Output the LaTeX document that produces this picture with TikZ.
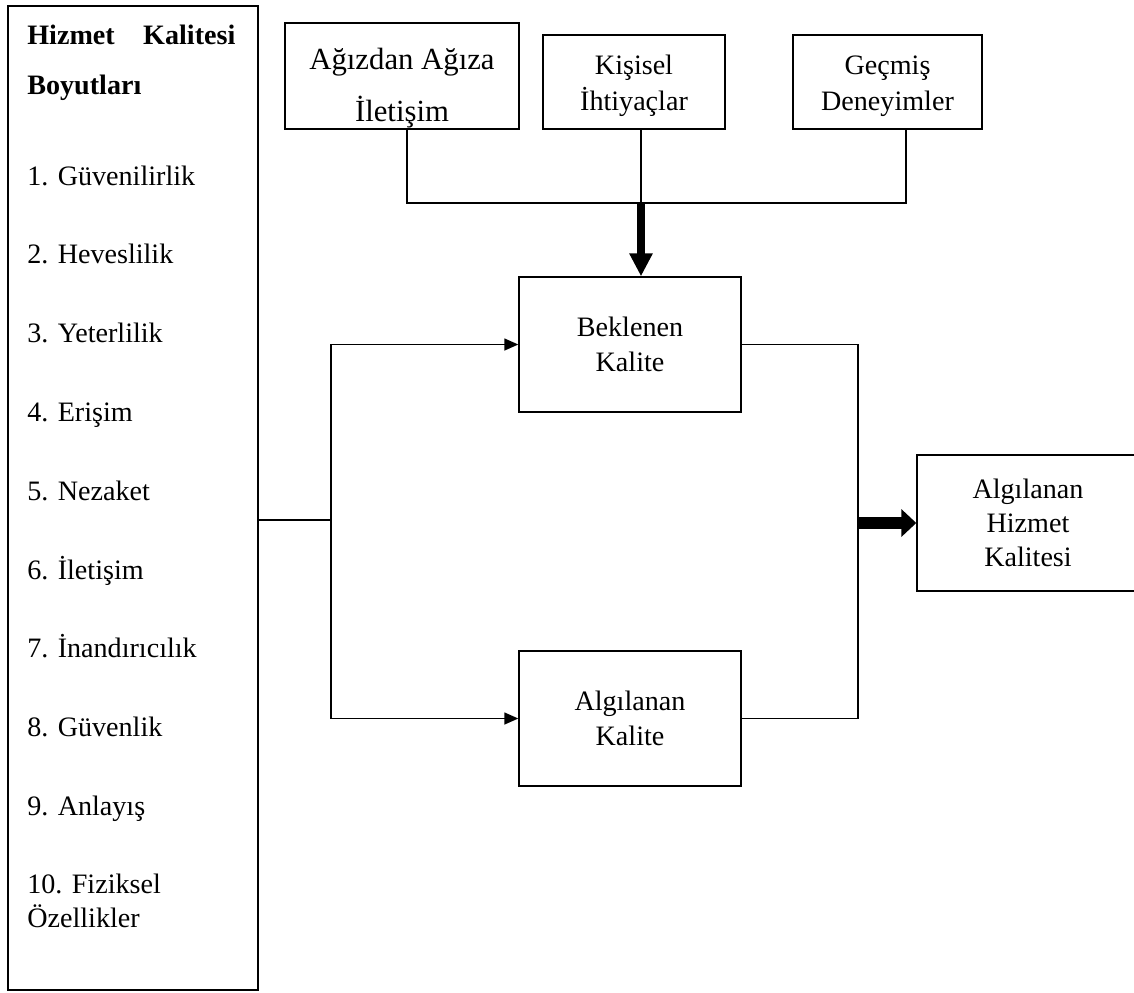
\documentclass[tikz,border=0pt]{standalone}
\usepackage{fontspec}
\setmainfont{Liberation Serif}
\usetikzlibrary{arrows.meta,calc}

\tikzset{
  box/.style={draw,line width=0.8pt,align=center,inner sep=0pt,
    font=\fontsize{16}{19.5}\selectfont},
  listitem/.style={anchor=base west,inner sep=0pt,align=left,
    font=\fontsize{16}{19}\selectfont},
  link/.style={line width=0.8pt},
  linkarrow/.style={line width=0.8pt,-{Triangle[length=0.28cm,width=0.24cm]}},
  bigdown/.style={line width=0.16cm,-{Triangle[length=0.46cm,width=0.44cm]}},
  bigright/.style={line width=0.24cm,-{Triangle[length=0.30cm,width=0.54cm]}},
}

\begin{document}
\begin{tikzpicture}[x=0.02cm,y=-0.02cm]
  \useasboundingbox (0,0) rectangle (1134,992);
  % left column: dimensions of service quality
  \node[draw,line width=0.8pt,minimum width=5cm,minimum height=19.68cm,inner sep=0pt] (dims) at (133,498) {};
  \node[anchor=north west,inner sep=0pt,text width=4.16cm,align=left,
    font=\bfseries\fontsize{16}{28.4}\selectfont] (title) at (27,25) {Hizmet\hfill Kalitesi\\Boyutları};
  \foreach \i/\dim in {1/Güvenilirlik, 2/Heveslilik, 3/Yeterlilik, 4/Erişim, 5/Nezaket,
                       6/İletişim, 7/İnandırıcılık, 8/Güvenlik, 9/Anlayış}{
    \node[listitem] (dim\i) at (27,{185+(\i-1)*78.8}) {\i. \dim};
  }
  \node[listitem] (dim10) at (27,927) {10. Fiziksel\\Özellikler};
  % factors on top
  \node[box,minimum width=4.68cm,minimum height=2.12cm,font=\fontsize{17.5}{21}\selectfont] (wom) at (402,76)
    {\rule{0pt}{26pt}Ağızdan Ağıza\\[9pt]İletişim};
  \node[box,minimum width=3.64cm,minimum height=1.88cm] (need) at (634,82) {\rule{0pt}{15pt}Kişisel\\[1pt]İhtiyaçlar};
  \node[box,minimum width=3.78cm,minimum height=1.88cm] (past) at (887.5,82) {\rule{0pt}{15pt}Geçmiş\\[1pt]Deneyimler};
  % expected / perceived quality
  \node[box,minimum width=4.44cm,minimum height=2.7cm] (expq) at (630,344.5) {Beklenen\\Kalite};
  \node[box,minimum width=4.44cm,minimum height=2.7cm] (perq) at (630,718.5) {Algılanan\\Kalite};
  \node[box,minimum width=4.44cm,minimum height=2.72cm] (psq) at (1028,523) {Algılanan\\Hizmet\\Kalitesi};
  % top factors merge into expected quality
  \coordinate (tapa) at ($(wom.south)+(5,0)$);
  \coordinate (tapb) at ($(need.south)+(7,0)$);
  \coordinate (tapc) at ($(past.south)+(18.5,0)$);
  \coordinate (merge) at (641,203);
  \draw[link] (tapa) |- (merge) -| (tapc);
  \draw[link] (tapb) -- (merge);
  \draw[bigdown] (merge) -- (merge |- expq.north);
  % dimensions split to both boxes
  \coordinate (split) at (331,520);
  \draw[link] (split -| dims.east) -- (split);
  \draw[linkarrow] (split) |- (expq.west);
  \draw[linkarrow] (split) |- (perq.west);
  % gap gives perceived service quality
  \coordinate (gather) at (858,523);
  \draw[link] (expq.east) -| (gather) |- (perq.east);
  \draw[bigright] (gather) -- (psq.west);
\end{tikzpicture}
\end{document}
